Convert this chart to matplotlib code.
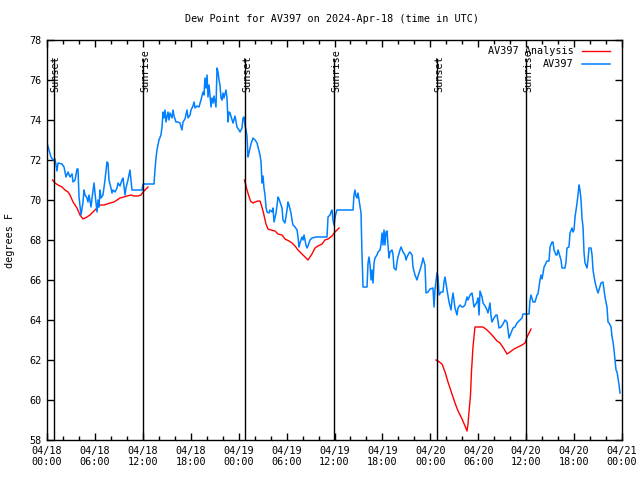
import matplotlib
matplotlib.use("Agg")
from matplotlib import pyplot as plt
import matplotlib.dates as mdates
import numpy as np
import pandas as pd

# %% data (hours since 2024-04-18 00:00 UTC, degrees F)
START = pd.Timestamp("2024-04-18 00:00")

obs_hours = [
    0.00, 0.25, 0.50, 0.75, 1.00, 1.13, 1.25, 1.38, 1.88, 2.13, 2.38, 2.63, 2.88, 3.13, 3.26, 3.51,
    3.76, 3.88, 4.01, 4.26, 4.51, 4.63, 4.76, 5.01, 5.13, 5.26, 5.51, 5.64, 5.89, 6.01, 6.26, 6.39,
    6.51, 6.64, 6.76, 7.01, 7.26, 7.51, 7.64, 7.76, 8.01, 8.14, 8.26, 8.51, 8.77, 8.89, 9.14, 9.39,
    9.52, 9.77, 9.89, 10.14, 10.39, 10.64, 11.90, 12.02, 13.27,
    13.40, 13.52, 13.65, 13.77, 13.90, 14.02, 14.27, 14.40, 14.53, 14.65, 14.78, 14.90, 15.15, 15.28,
    15.40, 15.65, 15.78, 15.90, 16.15, 16.40, 16.65, 16.90, 17.03, 17.28, 17.53, 17.66, 17.91, 18.03,
    18.28, 18.41, 18.53, 18.78, 19.03, 19.28, 19.53, 19.66, 19.78, 19.91, 20.04, 20.16, 20.29, 20.54,
    20.66, 20.79, 20.91, 21.16, 21.29, 21.41, 21.54, 21.66, 21.79, 21.91, 22.04, 22.16, 22.41, 22.54,
    22.66, 22.79, 22.92, 23.17, 23.29, 23.54, 23.79, 24.04, 24.17, 24.42, 24.54, 24.67, 24.79, 24.92,
    25.04, 25.17, 25.29, 25.54, 25.80, 26.05, 26.30, 26.42, 26.67, 26.80, 26.92, 27.05, 27.17, 27.30,
    27.42, 27.55, 27.80, 27.93, 28.18, 28.30, 28.43, 28.68, 28.80, 28.93, 29.05, 29.18, 29.43, 29.55,
    29.80, 30.05, 30.18, 30.30, 30.55, 30.68, 30.80, 31.06, 31.31, 31.43, 31.56, 31.68, 31.93, 32.06,
    32.18, 32.43, 32.56, 32.68, 32.93, 33.18, 33.68, 35.06, 35.19, 35.44, 35.56, 35.69, 35.81, 35.94,
    36.06, 36.19, 36.31, 38.32, 38.44, 38.57, 38.69, 38.82, 38.94, 39.07, 39.32, 39.44, 39.57, 40.07,
    40.20, 40.32, 40.45, 40.57, 40.70, 40.82, 40.95, 41.07, 41.32, 41.45, 41.70, 41.82, 41.95, 42.07,
    42.20, 42.32, 42.45, 42.58, 42.70, 42.83, 42.95, 43.20, 43.33, 43.45, 43.70, 43.83, 43.95, 44.20,
    44.33, 44.58, 44.83, 44.96, 45.08, 45.33, 45.46, 45.71, 45.83, 46.08, 46.33, 46.46, 46.71, 46.96,
    47.08, 47.33, 47.46, 47.71, 47.96, 48.33, 48.46, 48.58, 48.83, 48.96, 49.09, 49.34, 49.59, 49.71,
    49.84, 50.09, 50.34, 50.59, 50.71, 50.84, 51.09, 51.34, 51.46, 51.72, 51.97, 52.09, 52.34, 52.59,
    52.72, 52.97, 53.22, 53.47, 53.84, 53.97, 54.10, 54.22, 54.47, 54.60, 54.85, 55.10, 55.22, 55.47,
    55.60, 55.72, 55.97, 56.22, 56.35, 56.60, 56.85, 57.10, 57.35, 57.60, 57.73, 57.85, 58.10, 58.35,
    58.60, 58.85, 59.23, 59.48, 59.60, 60.36, 60.48, 60.61, 60.86, 61.11, 61.36, 61.48, 61.73, 61.86,
    61.99, 62.24, 62.61, 62.86, 62.99, 63.24, 63.36, 63.49, 63.74, 63.86, 63.99, 64.11, 64.36, 64.49,
    64.86, 64.99, 65.11, 65.36, 65.49, 65.74, 65.86, 65.99, 66.12, 66.37, 66.49, 66.62, 66.74, 66.87,
    66.99, 67.12, 67.24, 67.37, 67.62, 67.74, 67.87, 68.12, 68.25, 68.37, 68.62, 68.87, 69.00, 69.12,
    69.37, 69.62, 69.75, 69.87, 70.12, 70.25, 70.38, 70.63, 70.75, 70.88, 71.00, 71.13, 71.25, 71.38,
    71.50, 71.63, 71.75,
]
obs_dewpt = [
    72.85, 72.50, 72.15, 72.00, 72.05, 71.75, 71.45, 71.85, 71.80, 71.65, 71.15, 71.40, 71.15, 71.30, 70.90, 71.00,
    71.55, 71.55, 70.15, 69.25, 69.90, 70.50, 70.25, 70.10, 69.90, 70.25, 69.65, 70.10, 70.85, 70.35, 69.40, 70.00,
    69.65, 70.50, 70.10, 70.25, 71.00, 71.90, 71.85, 71.00, 70.60, 70.35, 70.50, 70.40, 70.60, 70.85, 70.70, 71.00,
    71.10, 70.25, 70.60, 71.00, 71.50, 70.50, 70.50, 70.80, 70.80,
    70.80, 71.50, 72.10, 72.50, 72.75, 73.00, 73.25, 73.65, 74.40, 74.10, 74.50, 73.90, 74.40, 74.00,
    74.35, 74.10, 74.50, 74.20, 73.90, 73.90, 73.85, 73.50, 73.90, 74.05, 74.50, 74.10, 74.25, 74.50,
    74.70, 74.90, 74.60, 74.70, 74.65, 75.00, 75.40, 75.25, 76.10, 75.60, 76.25, 75.15, 75.75, 74.65,
    75.10, 74.85, 75.20, 74.65, 76.60, 76.40, 76.00, 75.75, 75.10, 75.00, 75.35, 75.10, 75.50, 75.10,
    73.90, 74.40, 74.35, 74.00, 73.85, 74.20, 73.65, 73.50, 73.40, 73.60, 74.10, 74.15, 73.75, 73.50,
    73.20, 72.15, 72.35, 72.80, 73.10, 73.00, 72.85, 72.65, 72.25, 71.90, 70.85, 71.20, 70.60, 70.25,
    69.65, 69.40, 69.35, 69.50, 69.40, 69.60, 68.90, 69.35, 69.75, 70.15, 70.05, 69.90, 69.60, 69.00,
    68.85, 69.50, 69.90, 69.75, 69.35, 69.00, 68.75, 68.65, 68.50, 68.15, 67.65, 67.85, 68.15, 68.00,
    68.25, 67.75, 67.60, 67.70, 68.00, 68.10, 68.15, 68.15, 69.15, 69.25, 69.40, 69.50, 69.00, 68.75,
    69.10, 69.35, 69.50, 69.50, 70.25, 70.50, 70.20, 70.10, 70.35, 70.00, 69.35, 67.35, 65.65, 65.65,
    66.85, 67.15, 66.75, 66.00, 66.50, 65.85, 66.85, 67.10, 67.25, 67.40, 67.50, 67.75, 68.35, 67.75,
    68.50, 67.75, 68.40, 68.45, 67.75, 67.10, 67.40, 67.50, 67.25, 66.60, 66.50, 66.90, 67.15, 67.50,
    67.65, 67.40, 67.25, 67.00, 67.15, 67.35, 67.40, 67.25, 66.65, 66.25, 66.00, 66.20, 66.50, 66.85,
    67.10, 66.75, 65.35, 65.40, 65.55, 65.60, 64.65, 65.50, 66.35, 66.15, 65.25, 65.40, 65.40, 65.90,
    66.15, 65.50, 64.90, 64.50, 65.00, 65.35, 64.60, 64.25, 64.60, 64.75, 64.65, 64.65, 64.75, 65.15,
    65.00, 65.25, 65.35, 64.65, 64.90, 65.10, 64.25, 65.45, 65.15, 64.85, 64.70, 64.50, 64.35, 64.85,
    64.20, 63.90, 64.10, 64.25, 64.25, 63.60, 63.65, 63.80, 64.00, 63.90, 63.50, 63.10, 63.35, 63.60,
    63.65, 63.85, 64.00, 64.10, 64.30, 64.30, 65.00, 65.25, 64.90, 64.90, 65.25, 65.30, 66.00, 66.25,
    66.05, 66.65, 66.95, 66.95, 67.65, 67.90, 67.90, 67.50, 67.25, 67.25, 67.50, 67.35, 67.00, 66.60,
    66.60, 66.90, 67.60, 67.65, 68.35, 68.60, 68.40, 68.50, 69.15, 69.85, 70.25, 70.75, 70.50, 70.00,
    69.10, 68.65, 67.40, 66.85, 66.60, 67.00, 67.60, 67.60, 67.25, 66.50, 65.90, 65.50, 65.35, 65.50,
    65.85, 65.90, 65.50, 65.15, 64.65, 63.90, 63.85, 63.65, 63.15, 62.90, 62.50, 62.00, 61.50, 61.40,
    61.10, 60.75, 60.35,
]

# analysis runs, one per night
ana1_hours = [0.69, 1.00, 1.38, 1.88, 2.25, 2.63, 2.88, 3.26, 3.76, 4.13, 4.51, 5.01, 5.38, 5.76, 6.26,
              6.64, 7.14, 7.51, 7.89, 8.39, 8.77, 9.14, 9.64, 10.02, 10.52, 10.89, 11.39, 11.77, 12.02,
              12.40, 12.65]
ana1_dewpt = [71.00, 70.85, 70.75, 70.65, 70.50, 70.40, 70.25, 69.90, 69.60, 69.25, 69.05, 69.15, 69.25,
              69.40, 69.60, 69.75, 69.75, 69.80, 69.85, 69.90, 70.00, 70.10, 70.15, 70.20, 70.25, 70.20,
              70.20, 70.25, 70.40, 70.55, 70.65]

ana2_hours = [24.73, 24.98, 25.23, 25.48, 25.80, 26.05, 26.42, 26.67, 26.80, 27.05, 27.42, 27.67, 28.05,
              28.55, 28.93, 29.43, 29.80, 30.30, 30.68, 31.06, 31.43, 31.93, 32.31, 32.68, 33.18, 33.56,
              33.93, 34.44, 34.81, 35.19, 35.69, 36.06, 36.57]
ana2_dewpt = [71.00, 70.60, 70.25, 69.95, 69.85, 69.90, 69.95, 69.95, 69.80, 69.45, 68.80, 68.55, 68.50,
              68.45, 68.30, 68.25, 68.05, 67.95, 67.85, 67.70, 67.50, 67.30, 67.15, 67.00, 67.30, 67.60,
              67.70, 67.80, 68.00, 68.05, 68.20, 68.40, 68.60]

ana3_hours = [48.71, 48.96, 49.46, 49.84, 50.21, 50.71, 51.09, 51.47, 51.97, 52.34, 52.59, 52.72, 52.84,
              53.03, 53.15, 53.34, 53.59, 54.60, 55.10, 55.72, 56.35, 56.73, 57.23, 57.60, 57.98, 58.48,
              58.98, 59.48, 59.86, 60.11, 60.61]
ana3_dewpt = [62.00, 61.95, 61.80, 61.40, 60.90, 60.30, 59.85, 59.45, 59.05, 58.70, 58.45, 58.80, 59.40,
              60.25, 61.40, 62.65, 63.65, 63.65, 63.50, 63.25, 62.95, 62.85, 62.55, 62.30, 62.40, 62.55,
              62.65, 62.75, 62.85, 63.15, 63.55]

sun_hours = [0.91, 12.06, 24.83, 35.98, 48.87, 60.02]
sun_labels = ['Sunset', 'Sunrise', 'Sunset', 'Sunrise', 'Sunset', 'Sunrise']


def to_time(hours):
    return START + pd.to_timedelta(np.asarray(hours), unit='h')


# %% plotting
plt.rcParams['font.family'] = ['DejaVu Sans Mono']
FS = 7.3

fig = plt.figure(figsize=(6.4, 4.8), dpi=100)
ax = fig.add_axes([47/640, 40/480, 575/640, 400/480])

ax.plot(to_time(ana1_hours), ana1_dewpt, color='#ff0000', lw=1.0, label='AV397 Analysis')
ax.plot(to_time(ana2_hours), ana2_dewpt, color='#ff0000', lw=1.0)
ax.plot(to_time(ana3_hours), ana3_dewpt, color='#ff0000', lw=1.0)
ax.plot(to_time(obs_hours), obs_dewpt, color='#0080ff', lw=1.1, label='AV397')

for h, lab in zip(sun_hours, sun_labels):
    t = to_time([h])[0]
    ax.plot([t, t], [58, 77.05], color='black', lw=1.0)
    ax.text(t + pd.Timedelta(minutes=12), 75.4, lab, rotation=90, ha='center', va='bottom',
            fontsize=FS)

ax.set_xlim(START, START + pd.Timedelta(hours=72))
ax.set_ylim(58, 78)
ax.set_yticks(np.arange(58, 78.1, 2))
ax.xaxis.set_major_locator(mdates.HourLocator(byhour=[0, 6, 12, 18]))
ax.xaxis.set_minor_locator(mdates.HourLocator(interval=2))
ax.xaxis.set_major_formatter(mdates.DateFormatter('%m/%d\n%H:%M'))

ax.tick_params(axis='both', which='both', direction='in', top=True, right=True,
               labelsize=FS, width=1.0)
ax.tick_params(axis='both', which='major', length=5, pad=4)
ax.tick_params(axis='x', which='minor', length=3)
for s in ax.spines.values():
    s.set_linewidth(1.0)

fig.text(332/640, 1 - 19/480, 'Dew Point for AV397 on 2024-Apr-18 (time in UTC)',
         ha='center', va='center', fontsize=FS)
fig.text(10/640, 0.5, 'degrees F', rotation=90, ha='center', va='center', fontsize=FS)

ax.legend(loc='upper right', frameon=False, markerfirst=False, fontsize=FS,
          handlelength=2.8, handletextpad=0.8, labelspacing=0.3,
          borderaxespad=0.2, bbox_to_anchor=(0.99, 1.0))

fig.savefig('out.png', dpi=100)
